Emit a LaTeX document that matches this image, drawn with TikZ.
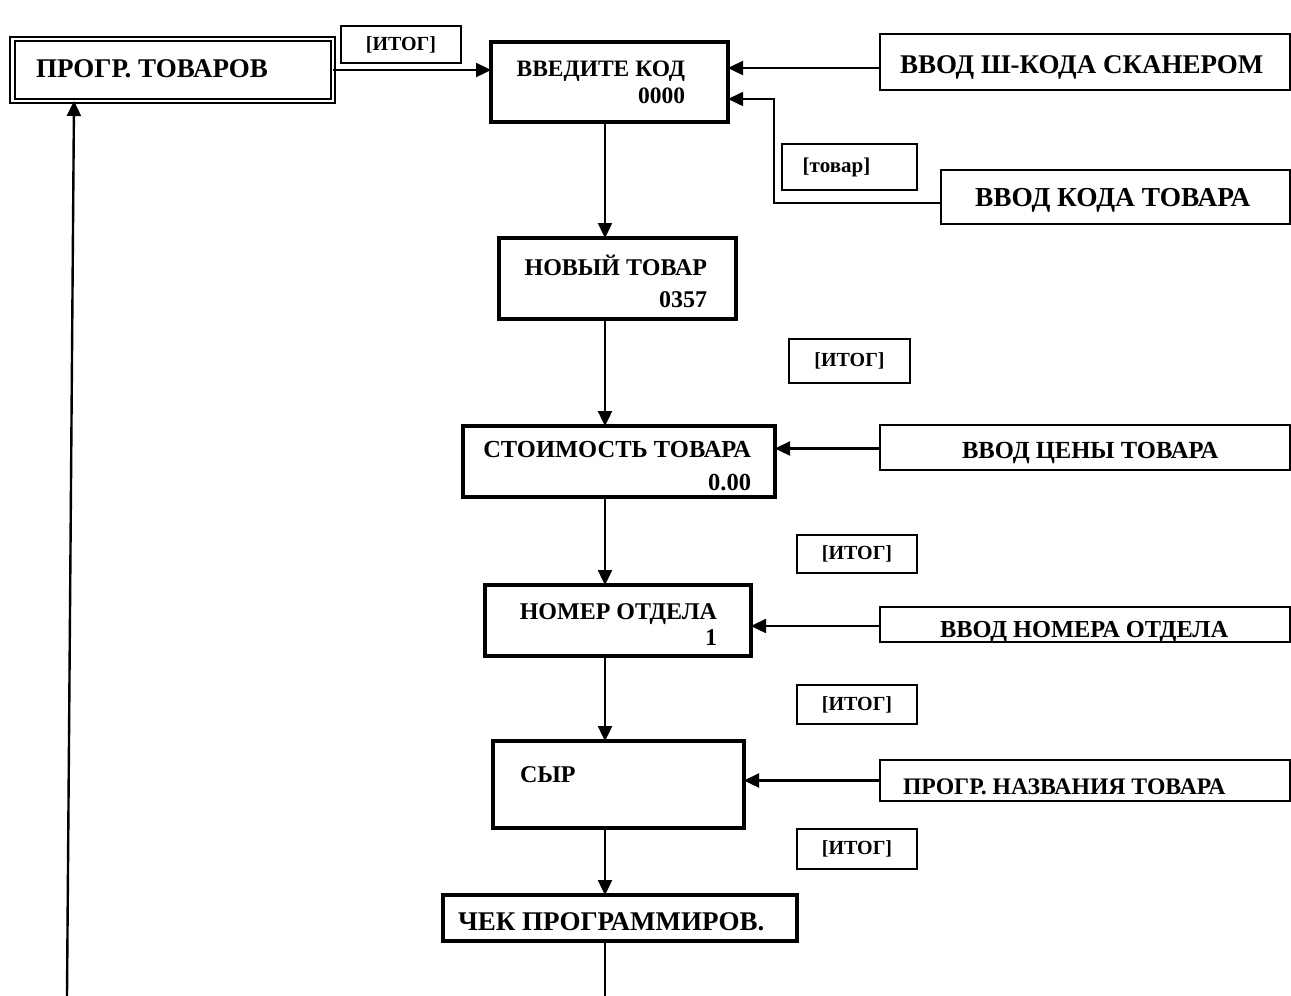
\documentclass[tikz,border=0pt]{standalone}
\usepackage{fontspec}
\setmainfont{Liberation Serif}
\usetikzlibrary{arrows.meta}
\begin{document}
\begin{tikzpicture}[x=1pt,y=-1pt,
  mainbox/.style={draw, line width=3.8pt, inner sep=0, outer sep=0},
  sidebox/.style={draw, line width=1.8pt, inner sep=0, outer sep=0},
  keybox/.style={draw, line width=1.8pt, inner sep=0, outer sep=0, font=\bfseries\fontsize{20}{22}\selectfont},
  lbl/.style={inner sep=0, outer sep=0, align=right},
  arr/.style={line width=2.4pt, -{Triangle[length=15pt,width=14pt]}},
  thinarr/.style={line width=1.6pt, -{Triangle[length=15pt,width=14pt]}},
  ]
\useasboundingbox (0,0) rectangle (1291,996);
% main column
\node[draw, double, double distance=2.5pt, line width=2pt, inner sep=0, outer sep=0,
      minimum width=320.5pt, minimum height=62pt] (prog) at (172.75,70) {};
\node[mainbox, minimum width=237pt, minimum height=80pt] (vk) at (609.5,82) {};
\node[mainbox, minimum width=237pt, minimum height=81pt] (nt) at (617.5,278.5) {};
\node[mainbox, minimum width=312pt, minimum height=71pt] (cost) at (619,461.5) {};
\node[mainbox, minimum width=266pt, minimum height=71pt] (dept) at (618,620.5) {};
\node[mainbox, minimum width=251pt, minimum height=87pt] (syr) at (618.5,784.5) {};
\node[mainbox, minimum width=354pt, minimum height=46pt] (chek) at (620,918) {};
% side inputs
\node[sidebox, minimum width=410pt, minimum height=56pt] (scan) at (1085,62) {};
\node[sidebox, minimum width=349pt, minimum height=54pt] (tovcode) at (1115.5,197) {};
\node[sidebox, minimum width=410pt, minimum height=45pt] (price) at (1085,447.5) {};
\node[sidebox, minimum width=410pt, minimum height=35pt] (deptin) at (1085,624.5) {};
\node[sidebox, minimum width=410pt, minimum height=41pt] (namein) at (1085,780.5) {};
% key boxes
\node[keybox, minimum width=120pt, minimum height=37pt] (itog1) at (401,44.5) {[ИТОГ]};
\node[keybox, minimum width=135pt, minimum height=46pt, font=\bfseries\fontsize{21}{22}\selectfont] (tovar) at (849.5,167) {[товар]\kern26pt};
\node[keybox, minimum width=121pt, minimum height=44pt] (itog2) at (849.5,361) {[ИТОГ]};
\node[keybox, minimum width=120pt, minimum height=38pt] (itog3) at (857,554) {[ИТОГ]};
\node[keybox, minimum width=120pt, minimum height=39pt] (itog4) at (857,704.5) {[ИТОГ]};
\node[keybox, minimum width=120pt, minimum height=40pt] (itog5) at (857,849) {[ИТОГ]};
% texts (multi-line: base = last line)
\node[lbl, anchor=base west, font=\bfseries\fontsize{27}{28}\selectfont] (tprog) at (36,77) {ПРОГР. ТОВАРОВ};
\node[lbl, anchor=base east, font=\bfseries\fontsize{23.5}{27}\selectfont] (tvk) at (685,103) {ВВЕДИТЕ КОД\\0000};
\node[lbl, anchor=base east, font=\bfseries\fontsize{24}{32}\selectfont] (tnt) at (707,307) {НОВЫЙ ТОВАР\\0357};
\node[lbl, anchor=base east, font=\bfseries\fontsize{24.5}{33}\selectfont] (tcost) at (751,490) {СТОИМОСТЬ ТОВАРА\\0.00};
\node[lbl, anchor=base east, font=\bfseries\fontsize{24}{26}\selectfont] (tdept) at (717,645) {НОМЕР ОТДЕЛА\\1};
\node[lbl, anchor=base west, font=\bfseries\fontsize{24}{28}\selectfont] (tsyr) at (520,782) {СЫР};
\node[lbl, anchor=base west, font=\bfseries\fontsize{27}{28}\selectfont] (tchek) at (458,930) {ЧЕК ПРОГРАММИРОВ.};
\node[lbl, anchor=base west, font=\bfseries\fontsize{27}{28}\selectfont] (tscan) at (900,73) {ВВОД Ш-КОДА СКАНЕРОМ};
\node[lbl, anchor=base west, font=\bfseries\fontsize{27.4}{28}\selectfont] (ttov) at (975,206) {ВВОД КОДА ТОВАРА};
\node[lbl, anchor=base west, font=\bfseries\fontsize{24.6}{28}\selectfont] (tprice) at (962,458) {ВВОД ЦЕНЫ ТОВАРА};
\node[lbl, anchor=base west, font=\bfseries\fontsize{24.4}{28}\selectfont] (tdeptin) at (940,637) {ВВОД НОМЕРА ОТДЕЛА};
\node[lbl, anchor=base west, font=\bfseries\fontsize{23.7}{28}\selectfont] (tname) at (903,794) {ПРОГР. НАЗВАНИЯ ТОВАРА};
% connectors
\coordinate (col) at (605,0);
\coordinate (bend) at (774,99);
\coordinate (bot) at (605,996);
\coordinate (lb) at (67,996);
\coordinate (lt) at (74,0);
\draw[arr] (prog.east) -- (prog.east -| vk.west);
\draw[arr] ([yshift=-6pt]scan.west) -- ([yshift=-6pt]scan.west -| vk.east);
\draw[thinarr] ([yshift=-6pt]tovcode.west) -| (bend) -- (bend -| vk.east);
\draw[arr] ([yshift=-1pt]price.west) -- ([yshift=-1pt]price.west -| cost.east);
\draw[arr] ([yshift=-1.5pt]deptin.west) -- ([yshift=-1.5pt]deptin.west -| dept.east);
\draw[arr] (namein.west) -- (namein.west -| syr.east);
\draw[arr] (vk.south -| col) -- (nt.north -| col);
\draw[arr] (nt.south -| col) -- (cost.north -| col);
\draw[arr] (cost.south -| col) -- (dept.north -| col);
\draw[arr] (dept.south -| col) -- (syr.north -| col);
\draw[arr] (syr.south -| col) -- (chek.north -| col);
\draw[line width=1.6pt] (chek.south -| col) -- (bot);
\draw[arr] (lb) -- (prog.south -| lt);
\end{tikzpicture}
\end{document}
